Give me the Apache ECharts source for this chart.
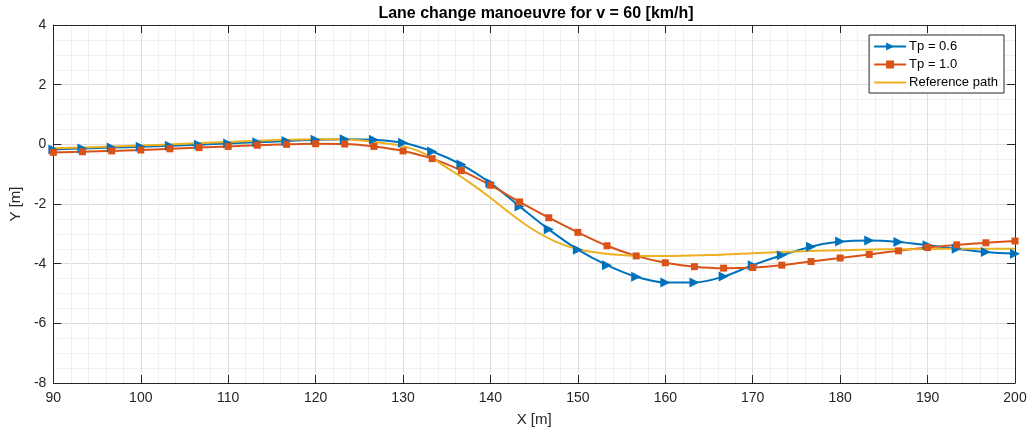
<!DOCTYPE html>
<html>
<head>
<meta charset="utf-8">
<title>Lane change manoeuvre</title>
<script src="https://cdn.jsdelivr.net/npm/echarts@6/dist/echarts.min.js"></script>
<style>
  html, body { margin: 0; padding: 0; background: #ffffff; }
  #chart { width: 1032px; height: 434px; }
</style>
</head>
<body>
<div id="chart"></div>
<script>
// Sample positions along the road (m) where the controller outputs are marked
const xSamples = [90, 93.33, 96.67, 100, 103.33, 106.67, 110, 113.33, 116.67, 120,
  123.33, 126.67, 130, 133.33, 136.67, 140, 143.33, 146.67, 150, 153.33,
  156.67, 160, 163.33, 166.67, 170, 173.33, 176.67, 180, 183.33, 186.67,
  190, 193.33, 196.67, 200];

// Lateral position (m) for preview time Tp = 0.6 s
const yTp06 = [-0.17, -0.14, -0.11, -0.08, -0.05, -0.01, 0.03, 0.07, 0.11, 0.15,
  0.17, 0.15, 0.05, -0.24, -0.68, -1.30, -2.08, -2.85, -3.53, -4.05,
  -4.44, -4.63, -4.63, -4.43, -4.05, -3.72, -3.43, -3.26, -3.22, -3.27,
  -3.38, -3.50, -3.61, -3.67];

// Lateral position (m) for preview time Tp = 1.0 s
const yTp10 = [-0.27, -0.25, -0.22, -0.19, -0.15, -0.11, -0.07, -0.03, 0.00, 0.02,
  0.01, -0.07, -0.22, -0.48, -0.88, -1.37, -1.93, -2.46, -2.95, -3.40,
  -3.74, -3.97, -4.10, -4.15, -4.13, -4.05, -3.93, -3.81, -3.69, -3.57,
  -3.46, -3.37, -3.30, -3.24];

// Reference path
const xRef = [90, 95, 100, 105, 110, 115, 120, 122.5, 125, 127.5, 130, 132.5, 135,
  137.5, 140, 142.5, 145, 147.5, 150, 152.5, 155, 157.5, 160, 165, 170, 175,
  180, 185, 190, 195, 200];
const yRef = [-0.13, -0.09, -0.04, 0.02, 0.08, 0.14, 0.17, 0.17, 0.14, 0.05, -0.06,
  -0.32, -0.78, -1.26, -1.79, -2.37, -2.88, -3.27, -3.52, -3.64, -3.71, -3.74,
  -3.74, -3.71, -3.65, -3.59, -3.55, -3.52, -3.51, -3.50, -3.50];

const seriesNames = ['Tp = 0.6', 'Tp = 1.0', 'Reference path'];
const xTicks = { min: 90, max: 200, interval: 10 };
const yTicks = { min: -8, max: 4, interval: 2 };

const zip = (xs, ys) => xs.map((x, i) => [x, ys[i]]);

const FONT = '"Liberation Sans", Arial, Helvetica, sans-serif';
const AXIS_COLOR = '#262626';
const BLUE = '#0072BD';
const ORANGE = '#D95319';
const YELLOW = '#EDB120';

// Plain line swatch for the legend entry that has no marker (32 x 10 box, 2 px bar)
const LINE_ICON = 'path://M0,0L0,0M0,4L32,4L32,6L0,6ZM32,10L32,10';

const boxAxis = (extra) => Object.assign({
  type: 'value',
  axisLine: { show: true, onZero: false, lineStyle: { color: AXIS_COLOR, width: 1 } },
  axisTick: { show: true, inside: true, length: 8, lineStyle: { color: AXIS_COLOR } },
  axisLabel: { show: false },
  splitLine: { show: false }
}, extra);

const chart = echarts.init(document.getElementById('chart'), null, { renderer: 'canvas' });

chart.setOption({
  animation: false,
  backgroundColor: '#ffffff',
  textStyle: { fontFamily: FONT },
  title: {
    text: 'Lane change manoeuvre for v = 60 [km/h]',
    left: 531,
    textAlign: 'center',
    top: 1,
    textStyle: { fontFamily: FONT, fontSize: 16, fontWeight: 'bold', color: '#000000' }
  },
  grid: { left: 47, right: 17, top: 25, bottom: 51, containLabel: false },
  legend: {
    orient: 'vertical',
    right: 28,
    top: 35,
    data: [
      { name: seriesNames[0] },
      { name: seriesNames[1] },
      { name: seriesNames[2], icon: LINE_ICON, itemStyle: { color: YELLOW } }
    ],
    itemWidth: 32,
    itemHeight: 10,
    itemGap: 5,
    padding: [5, 6, 4, 4],
    backgroundColor: '#ffffff',
    borderColor: AXIS_COLOR,
    borderWidth: 1,
    borderRadius: 0,
    textStyle: { fontFamily: FONT, fontSize: 13, color: '#000000', padding: [0, 0, 0, -2] }
  },
  xAxis: [
    {
      type: 'value',
      min: xTicks.min, max: xTicks.max, interval: xTicks.interval,
      name: 'X [m]',
      nameLocation: 'middle',
      nameGap: 29,
      nameTextStyle: { fontFamily: FONT, fontSize: 15, color: AXIS_COLOR },
      axisLine: { show: true, onZero: false, lineStyle: { color: AXIS_COLOR, width: 1 } },
      axisTick: { show: true, inside: true, length: 8, lineStyle: { color: AXIS_COLOR } },
      axisLabel: { fontFamily: FONT, fontSize: 14, color: AXIS_COLOR, margin: 8 },
      splitLine: { show: true, lineStyle: { color: '#dedede', width: 1 } },
      minorTick: { show: false, splitNumber: 5 },
      minorSplitLine: { show: true, lineStyle: { color: '#f0f0f0', width: 1 } }
    },
    boxAxis({ position: 'top', min: xTicks.min, max: xTicks.max, interval: xTicks.interval })
  ],
  yAxis: [
    {
      type: 'value',
      min: yTicks.min, max: yTicks.max, interval: yTicks.interval,
      name: 'Y [m]',
      nameLocation: 'middle',
      nameGap: 24,
      nameRotate: 90,
      nameTextStyle: { fontFamily: FONT, fontSize: 15, color: AXIS_COLOR },
      axisLine: { show: true, onZero: false, lineStyle: { color: AXIS_COLOR, width: 1 } },
      axisTick: { show: true, inside: true, length: 8, lineStyle: { color: AXIS_COLOR } },
      axisLabel: { fontFamily: FONT, fontSize: 14, color: AXIS_COLOR, margin: 7 },
      splitLine: { show: true, lineStyle: { color: '#dedede', width: 1 } },
      minorTick: { show: false, splitNumber: 4 },
      minorSplitLine: { show: true, lineStyle: { color: '#f0f0f0', width: 1 } }
    },
    boxAxis({ position: 'right', min: yTicks.min, max: yTicks.max, interval: yTicks.interval })
  ],
  series: [
    {
      name: seriesNames[0],
      type: 'line',
      data: zip(xSamples, yTp06),
      smooth: 0.35,
      symbol: 'triangle',
      symbolSize: 10,
      symbolRotate: -90,
      showAllSymbol: true,
      color: BLUE,
      lineStyle: { width: 2, color: BLUE },
      itemStyle: { color: BLUE },
      emphasis: { disabled: true }
    },
    {
      name: seriesNames[1],
      type: 'line',
      data: zip(xSamples, yTp10),
      smooth: 0.35,
      symbol: 'rect',
      symbolSize: 7,
      showAllSymbol: true,
      color: ORANGE,
      lineStyle: { width: 2, color: ORANGE },
      itemStyle: { color: ORANGE },
      emphasis: { disabled: true }
    },
    {
      name: seriesNames[2],
      type: 'line',
      data: zip(xRef, yRef),
      smooth: 0.4,
      symbol: 'none',
      color: YELLOW,
      lineStyle: { width: 2, color: YELLOW },
      itemStyle: { color: YELLOW },
      emphasis: { disabled: true }
    }
  ]
});
</script>
</body>
</html>
